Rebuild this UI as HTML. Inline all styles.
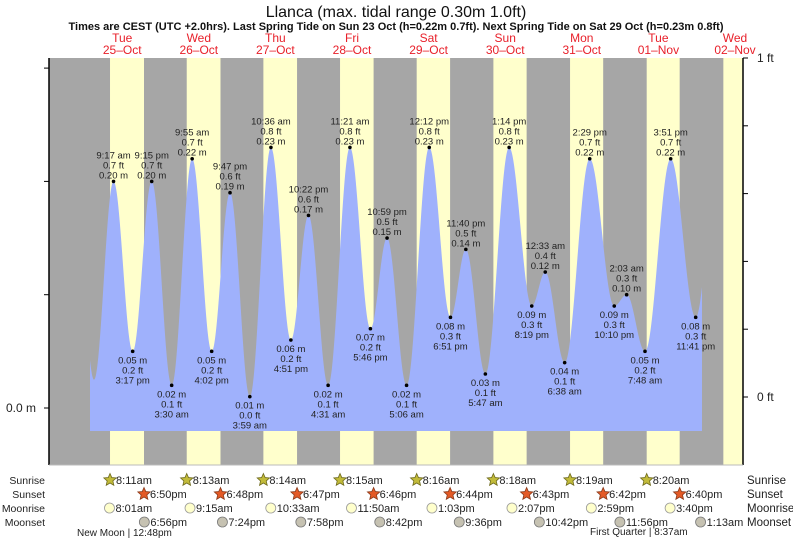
<!DOCTYPE html>
<html><head><meta charset="utf-8"><title>Llanca tides</title>
<style>
html,body{margin:0;padding:0;background:#fff;}
svg{display:block;font-family:"Liberation Sans",sans-serif;}
</style></head>
<body>
<svg id="chart" width="793" height="539" viewBox="0 0 793 539" xmlns="http://www.w3.org/2000/svg">
<text x="396" y="17" text-anchor="middle" font-size="16" fill="#111">Llanca (max. tidal range 0.30m 1.0ft)</text>
<text x="396" y="30" text-anchor="middle" font-size="11" font-weight="bold" fill="#111">Times are CEST (UTC +2.0hrs). Last Spring Tide on Sun 23 Oct (h=0.22m 0.7ft). Next Spring Tide on Sat 29 Oct (h=0.23m 0.8ft)</text>
<g id="bands"></g>
<path id="tide" fill="#9fb1fc"/>
<g id="marks"></g>
<g id="axes"></g>
<g id="days"></g>
<g id="astro"></g>
</svg>
<script>
// ---- data ----
const dayNames = ["Tue","Wed","Thu","Fri","Sat","Sun","Mon","Tue","Wed"];
const dayDates = ["25\u2013Oct","26\u2013Oct","27\u2013Oct","28\u2013Oct","29\u2013Oct","30\u2013Oct","31\u2013Oct","01\u2013Nov","02\u2013Nov"];
const sunrise = ["8:11am","8:13am","8:14am","8:15am","8:16am","8:18am","8:19am","8:20am"];
const sunset = ["6:50pm","6:48pm","6:47pm","6:46pm","6:44pm","6:43pm","6:42pm","6:40pm"];
const moonrise = ["8:01am","9:15am","10:33am","11:50am","1:03pm","2:07pm","2:59pm","3:40pm"];
const moonset = ["6:56pm","7:24pm","7:58pm","8:42pm","9:36pm","10:42pm","11:56pm","1:13am"];
const moonsetDay = [0,1,2,3,4,5,6,8];
// tide extremes: day index (0 = 25 Oct), time, height m, ft, labelled?
const tideDay = [-1,0,0,0,0,1,1,1,1,2,2,2,2,3,3,3,3,4,4,4,4,5,5,5,6,6,6,6,7,7,7,7,8];
const tideTime = ["9:00 pm","3:10 am","9:17 am","3:17 pm","9:15 pm","3:30 am","9:55 am","4:02 pm","9:47 pm","3:59 am","10:36 am","4:51 pm","10:22 pm","4:31 am","11:21 am","5:46 pm","10:59 pm","5:06 am","12:12 pm","6:51 pm","11:40 pm","5:47 am","1:14 pm","8:19 pm","12:33 am","6:38 am","2:29 pm","10:10 pm","2:03 am","7:48 am","3:51 pm","11:41 pm","6:00 am"];
const tideM = [0.20,0.025,0.20,0.05,0.20,0.02,0.22,0.05,0.19,0.01,0.23,0.06,0.17,0.02,0.23,0.07,0.15,0.02,0.23,0.08,0.14,0.03,0.23,0.09,0.12,0.04,0.22,0.09,0.10,0.05,0.22,0.08,0.20];
const tideFt = ["","","0.7","0.2","0.7","0.1","0.7","0.2","0.6","0.0","0.8","0.2","0.6","0.1","0.8","0.2","0.5","0.1","0.8","0.3","0.5","0.1","0.8","0.3","0.4","0.1","0.7","0.3","0.3","0.2","0.7","0.3",""];
const tideShown = [0,0,1,1,1,1,1,1,1,1,1,1,1,1,1,1,1,1,1,1,1,1,1,1,1,1,1,1,1,1,1,1,0];
const rightTicksFt = ["1 ft","","","","","0 ft"];

// ---- scales ----
const X0=83.9, PXH=76.6/24;
const L=49, R=743, T=58, B=465;
function parseT(s){const m=s.match(/(\d+):(\d+)\s*(am|pm)/);let h=+m[1]%12;if(m[3]==="pm")h+=12;return h+ +m[2]/60;}
function xOf(day,s){return X0+(day*24+parseT(s))*PXH;}
function yM(v){return 408-v*1133;}
function yFt(v){return 397-v*339;}
const NS="http://www.w3.org/2000/svg";
function el(tag,attrs,parent,txt){const e=document.createElementNS(NS,tag);for(const k in attrs)e.setAttribute(k,attrs[k]);if(txt!==undefined)e.textContent=txt;parent.appendChild(e);return e;}

// bands
const bands=document.getElementById('bands');
let r=el('rect',{x:L,y:T,width:R-L,height:B-T,fill:'#a6a6a6'},bands);


for(let d=0;d<9;d++){
  const x1=d<8?xOf(d,sunrise[d]):xOf(d,"8:21am"), x2=d<8?xOf(d,sunset[d]):xOf(d,"6:39pm");
  const a=Math.max(x1,L), b=Math.min(x2,R);
  if(b<=a) continue;
  const rr=el('rect',{x:a,y:T,width:b-a,height:B-T,fill:'#ffffcc'},bands);
  
  
}

// tide curve (cosine interpolation)
const pts=tideM.map((v,i)=>[(tideDay[i]*24+parseT(tideTime[i])),v]);
const tStart=(90-X0)/PXH, tEnd=(702-X0)/PXH;
function hAt(t){for(let i=0;i<pts.length-1;i++){const [t1,v1]=pts[i],[t2,v2]=pts[i+1];if(t>=t1&&t<=t2){const f=(1-Math.cos(Math.PI*(t-t1)/(t2-t1)))/2;return v1+(v2-v1)*f;}}return pts[pts.length-1][1];}
let d=`M${X0+tStart*PXH},431`;
for(let t=tStart;t<=tEnd;t+=0.1){d+=` L${(X0+t*PXH).toFixed(2)},${yM(hAt(t)).toFixed(2)}`;}
d+=` L${X0+tEnd*PXH},${yM(hAt(tEnd)).toFixed(2)} L${X0+tEnd*PXH},431 Z`;
document.getElementById('tide').setAttribute('d',d);

// extreme markers & labels
const marks=document.getElementById('marks');
for(let i=0;i<pts.length;i++){
  if(!tideShown[i]) continue;
  const x=xOf(tideDay[i],tideTime[i]), y=yM(tideM[i]);
  const high=(i>0&&tideM[i]>tideM[i-1]);
  const g=el('g',{},marks);
  
  
  el('circle',{cx:x,cy:y,r:1.8,fill:'#000'},g);
  const m=tideM[i].toFixed(2)+" m", f=tideFt[i]+" ft", tt=tideTime[i];
  const lines=high?[tt,f,m]:[m,f,tt];
  const base=high?[y-23,y-13,y-3]:[y+12,y+22,y+32];
  lines.forEach((s,k)=>el('text',{x:x,y:base[k],'text-anchor':'middle','font-size':9.5,fill:'#222'},g,s));
}

// axes
const ax=document.getElementById('axes');
el('line',{x1:L,y1:T,x2:L,y2:B,stroke:'#000','stroke-width':1.5},ax);
el('line',{x1:R,y1:T,x2:R,y2:B,stroke:'#000','stroke-width':1.5},ax);
el('line',{x1:L,y1:B,x2:R,y2:B,stroke:'#bbb','stroke-width':1},ax);
[0,0.1,0.2,0.3].forEach(v=>el('line',{x1:L-5,y1:yM(v),x2:L,y2:yM(v),stroke:'#000'},ax));
let t0=el('text',{x:36,y:yM(0)+4,'text-anchor':'end','font-size':12,fill:'#222'},ax,"0.0 m");


[1,0.8,0.6,0.4,0.2,0].forEach((v,k)=>{
  el('line',{x1:R,y1:yFt(v),x2:R+5,y2:yFt(v),stroke:'#000'},ax);
  if(rightTicksFt[k]){const tx=el('text',{x:757,y:yFt(v)+4,'font-size':12,fill:'#222'},ax,rightTicksFt[k]);
    
    }
});

// day labels
const days=document.getElementById('days');
for(let i=0;i<9;i++){
  const x=X0+(i*24+12)*PXH;
  const a=el('text',{x:x,y:42,'text-anchor':'middle','font-size':12,fill:'#e8202a'},days,dayNames[i]);
  
  
  const b=el('text',{x:x,y:54,'text-anchor':'middle','font-size':12,fill:'#e8202a'},days,dayDates[i]);
  
  
}

// astro rows
const astro=document.getElementById('astro');
const rowY=[480,494,508,522];
const rowNames=["Sunrise","Sunset","Moonrise","Moonset"];
rowNames.forEach((n,k)=>{
  const a=el('text',{x:45,y:rowY[k]+4,'text-anchor':'end','font-size':10.5,fill:'#222'},astro,n);
  
  
  const b=el('text',{x:747,y:rowY[k]+4,'font-size':11.5,fill:'#222'},astro,n);
  
  
});
function star(cx,cy,fill,stroke,g){let p="";for(let i=0;i<10;i++){const rad=i%2?3:6.5;const a=-Math.PI/2+i*Math.PI/5;p+=(cx+rad*Math.cos(a)).toFixed(2)+","+(cy+rad*Math.sin(a)).toFixed(2)+" ";}el('polygon',{points:p,fill:fill,stroke:stroke,'stroke-width':0.8},g);}
function item(day,time,k,kind){
  const x=xOf(day,time), y=rowY[k];
  const g=el('g',{},astro);
  
  
  if(k===0) star(x,y,'#c2bb3a','#6e6a1c',g);
  else if(k===1) star(x,y,'#e45a26','#8a3a1a',g);
  else if(k===2) el('circle',{cx:x,cy:y,r:5,fill:'#ffffcc',stroke:'#999','stroke-width':0.8},g);
  else el('circle',{cx:x,cy:y,r:5,fill:'#c6c2b2',stroke:'#777','stroke-width':0.8},g);
  el('text',{x:x+6,y:y+4,'font-size':11,fill:'#222'},g,time);
}
for(let i=0;i<8;i++){
  item(i,sunrise[i],0,'sunrise-entry');
  item(i,sunset[i],1,'sunset-entry');
  item(i,moonrise[i],2,'moonrise-entry');
  item(moonsetDay[i],moonset[i],3,'moonset-entry');
}
const p1=el('text',{x:77,y:536,'font-size':10,fill:'#222'},astro,"New Moon | 12:48pm");


const p2=el('text',{x:590,y:535,'font-size':10,fill:'#222'},astro,"First Quarter | 8:37am");


</script>
</body></html>
